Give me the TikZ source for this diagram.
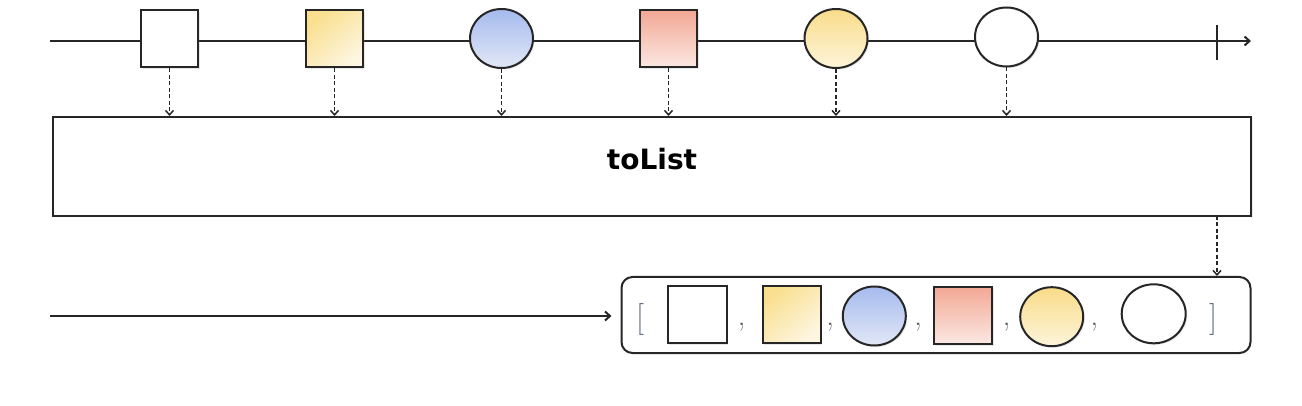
\documentclass[tikz,border=0pt]{standalone}
\usepackage{fontspec}
\newfontfamily\labelfont{DejaVu Sans}
\usetikzlibrary{arrows.meta,shapes.geometric,shadows}
\begin{document}
\begin{tikzpicture}[x=1pt,y=-1pt,
  axis/.style={line width=2pt,draw=black!85},
  sq/.style={draw=black!85,line width=2pt,rectangle,minimum width=57pt,minimum height=57pt,inner sep=0pt,
    drop shadow={opacity=0.18,shadow xshift=1.5pt,shadow yshift=-1.5pt}},
  el/.style={draw=black!85,line width=2pt,ellipse,minimum width=63pt,minimum height=59pt,inner sep=0pt,
    drop shadow={opacity=0.18,shadow xshift=1.5pt,shadow yshift=-1.5pt}},
  whitefill/.style={fill=white},
  yellowsqfill/.style={top color={rgb,255:red,249;green,223;blue,142},bottom color={rgb,255:red,253;green,246;blue,225},shading angle=40},
  bluefill/.style={top color={rgb,255:red,165;green,187;blue,238},bottom color={rgb,255:red,226;green,231;blue,246}},
  pinkfill/.style={top color={rgb,255:red,242;green,168;blue,148},bottom color={rgb,255:red,251;green,232;blue,227}},
  yellowelfill/.style={top color={rgb,255:red,249;green,220;blue,138},bottom color={rgb,255:red,253;green,245;blue,218}},
  dasharrow/.style={line width=1.5pt,draw=black!85,dash pattern=on 4pt off 2.5pt,-{Straight Barb[length=4.5pt,width=8pt]}},
  brk/.style={font=\fontsize{32}{32}\selectfont,text={rgb,255:red,95;green,108;blue,128},inner sep=0pt,anchor=base},
  commalbl/.style={font=\fontsize{30}{30}\selectfont,text=black!65,inner sep=0pt,anchor=base},
  bigbox/.style={draw=black!85,line width=2pt,rectangle,inner sep=0pt,
    drop shadow={opacity=0.15,shadow xshift=1.5pt,shadow yshift=-1.5pt},fill=white}
]
\useasboundingbox (0,0) rectangle (1302,406);

% top timeline
\coordinate (t0) at (50,41);
\coordinate (t1) at (1251,41);
\coordinate (tk0) at (1217,25);
\coordinate (tk1) at (1217,60);
\draw[axis,-{Straight Barb[length=5pt,width=9pt]}] (t0) -- (t1);
\draw[axis] (tk0) -- (tk1);

\node[sq,whitefill] (a1) at (169.5,39) {};
\node[sq,yellowsqfill] (a2) at (334.5,39) {};
\node[el,bluefill] (a3) at (501.5,38.5) {};
\node[sq,pinkfill] (a4) at (668.5,39) {};
\node[el,yellowelfill] (a5) at (836,38.5) {};
\node[el,whitefill] (a6) at (1006.5,37) {};

% operator box
\node[bigbox,minimum width=1198pt,minimum height=99pt] (op) at (652,166.5) {};
\node[font=\labelfont\bfseries\fontsize{28}{28}\selectfont,inner sep=0pt,anchor=base] (lbl) at (652,170) {toList};

\foreach \i in {1,...,6}{
  \draw[dasharrow] (a\i.south) -- (a\i.south |- op.north);
}

% result
\node[draw=black!85,line width=2pt,rounded corners=11pt,minimum width=629pt,minimum height=76pt,inner sep=0pt,fill=white] (res) at (936,315) {};
\coordinate (d7) at (1217,216);
\draw[dasharrow] (d7) -- (d7 |- res.north);

\coordinate (b0) at (50,316);
\draw[axis,-{Straight Barb[length=5pt,width=9pt]},shorten >=9pt] (b0) -- (b0 -| res.west);

\node[brk] (lb) at (640,327) {[};
\node[brk] (rb) at (1213,327) {]};

\node[sq,whitefill,minimum width=59pt] (r1) at (697,314.5) {};
\node[sq,yellowsqfill,minimum width=58pt] (r2) at (791.7,314.7) {};
\node[el,bluefill] (r3) at (874.3,316) {};
\node[sq,pinkfill,minimum width=58pt] (r4) at (963.3,315.5) {};
\node[el,yellowelfill] (r5) at (1051.7,316.7) {};
\node[el,whitefill,minimum width=64pt] (r6) at (1153.7,313.8) {};

\node[commalbl] (c1) at (741.7,325) {,};
\node[commalbl] (c2) at (830,325) {,};
\node[commalbl] (c3) at (918,325) {,};
\node[commalbl] (c4) at (1006.7,325) {,};
\node[commalbl] (c5) at (1094.3,325) {,};
\end{tikzpicture}
\end{document}
